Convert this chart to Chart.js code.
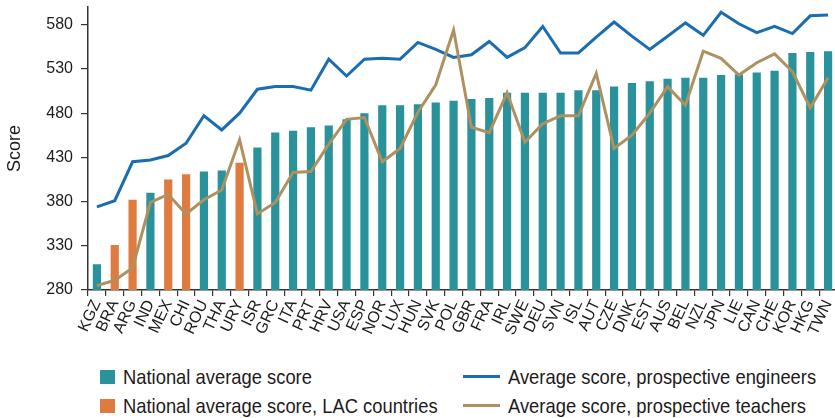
<!DOCTYPE html>
<html>
<head>
<meta charset="utf-8">
<script src="https://cdn.jsdelivr.net/npm/chart.js@4/dist/chart.umd.min.js"></script>
<style>
  html, body { margin: 0; padding: 0; background: #fff; overflow: hidden; }
  #wrap { position: relative; width: 835px; height: 418px; overflow: hidden; }
  #box { position: absolute; left: 0; top: 0; width: 837px; height: 345px; }
  .lg { position: absolute; font-family: "Liberation Sans", Arial, sans-serif; font-size: 21px; line-height: 22px; color: #1e1b1c; white-space: nowrap; transform: scaleX(0.875); transform-origin: 0 50%; }
  .sw { position: absolute; width: 15px; height: 14px; }
  .ln { position: absolute; width: 37px; height: 3px; }
</style>
</head>
<body>
<div id="wrap">
  <div id="box"><canvas id="c"></canvas></div>
  <div class="sw" style="left:100px;top:370px;background:#2a929b"></div>
  <div class="lg" style="left:123px;top:366px">National average score</div>
  <div class="sw" style="left:100px;top:399px;background:#e07b40"></div>
  <div class="lg" style="left:123px;top:395px">National average score, LAC countries</div>
  <div class="ln" style="left:463px;top:375px;background:#1b6db1"></div>
  <div class="lg" style="left:508px;top:366px">Average score, prospective engineers</div>
  <div class="ln" style="left:463px;top:404px;background:#ad9160"></div>
  <div class="lg" style="left:508px;top:395px">Average score, prospective teachers</div>
</div>
<script>
const categories = ["KGZ","BRA","ARG","IND","MEX","CHI","ROU","THA","URY","ISR","GRC","ITA","PRT","HRV","USA","ESP","NOR","LUX","HUN","SVK","POL","GBR","FRA","IRL","SWE","DEU","SVN","ISL","AUT","CZE","DNK","EST","AUS","BEL","NZL","JPN","LIE","CAN","CHE","KOR","HKG","TWN"];
const lacCountries = ["BRA","ARG","MEX","CHI","URY"];
const nationalAvg = [309,331,382,390,405,411,414,415,424,441,458,460,464,466,473,480,489,489,490,492,494,496,497,503,503,503,503,506,506,510,514,516,519,520,520,523,524,526,528,548,549,550];
const engineers = [374,381,425,427,432,446,477,461,480,507,510,510,506,541,522,541,542,541,560,552,543,546,561,543,554,578,548,548,566,583,567,552,567,582,568,594,581,571,578,570,590,591];
const teachers = [285,291,305,379,388,366,382,393,450,366,379,413,414,445,473,475,425,440,481,512,574,464,458,503,447,468,477,477,525,440,455,480,510,489,550,542,523,537,547,527,486,520];
const yTicks = [280,330,380,430,480,530,580];

const TEAL = "#2a929b", ORANGE = "#e07b40", BLUE = "#1b6db1", TAN = "#ad9160", INK = "#1e1b1c";

const tealData = nationalAvg.map((v, i) => lacCountries.includes(categories[i]) ? null : v);
const orangeData = nationalAvg.map((v, i) => lacCountries.includes(categories[i]) ? v : null);

new Chart(document.getElementById("c"), {
  type: "bar",
  data: {
    labels: categories,
    datasets: [
      { type: "line", label: "Average score, prospective teachers", data: teachers, borderColor: TAN, borderWidth: 3, pointRadius: 0, tension: 0, order: 0 },
      { type: "line", label: "Average score, prospective engineers", data: engineers, borderColor: BLUE, borderWidth: 3, pointRadius: 0, tension: 0, order: 1 },
      { label: "National average score", data: tealData, backgroundColor: TEAL, grouped: false, categoryPercentage: 1, barPercentage: 0.46, order: 2 },
      { label: "National average score, LAC countries", data: orangeData, backgroundColor: ORANGE, grouped: false, categoryPercentage: 1, barPercentage: 0.46, order: 2 }
    ]
  },
  options: {
    responsive: true,
    maintainAspectRatio: false,
    animation: false,
    layout: { padding: { top: 7, left: 0, right: 0, bottom: 0 } },
    plugins: { legend: { display: false }, tooltip: { enabled: false } },
    scales: {
      x: {
        offset: true,
        grid: { offset: true, drawOnChartArea: false, drawTicks: true, tickLength: 6, color: "#333", lineWidth: 1.2 },
        border: { display: true, color: "#333", width: 1.5 },
        ticks: { autoSkip: false, minRotation: 65, maxRotation: 65, padding: 1, color: INK, font: { family: "'Liberation Sans', Arial", size: 16 } },
        afterFit: (s) => { s.height = 55; s.paddingLeft = 0; s.paddingRight = 0; }
      },
      y: {
        min: 280, max: 600,
        afterBuildTicks: (s) => { s.ticks = yTicks.map(v => ({ value: v })); },
        grid: { drawOnChartArea: false, drawTicks: true, tickLength: 7, color: "#333", lineWidth: 1.2 },
        border: { display: true, color: "#333", width: 1.5 },
        ticks: { padding: 8, color: INK, font: { family: "'Liberation Sans', Arial", size: 16 } },
        title: { display: true, text: "Score", color: INK, padding: { top: 4, bottom: 0 }, font: { family: "'Liberation Sans', Arial", size: 18 } },
        afterFit: (s) => { s.width = 88; s.paddingTop = 0; s.paddingBottom = 0; }
      }
    }
  }
});
</script>
</body>
</html>
